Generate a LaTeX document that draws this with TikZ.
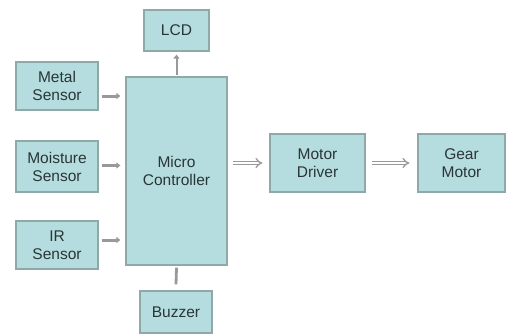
\documentclass[tikz,border=0pt]{standalone}
\usepackage{fontspec}
\setmainfont{Liberation Sans}
\usetikzlibrary{arrows.meta,calc}
\definecolor{boxfill}{HTML}{B5DDE0}
\definecolor{boxline}{HTML}{8FA8AA}
\definecolor{arrgray}{HTML}{999999}
\definecolor{txt}{HTML}{2A3535}
\tikzset{
  blockbox/.style={draw=boxline, line width=1.2pt, fill=boxfill, inner sep=0pt, align=center,
    text=txt, font=\fontsize{15.5}{18}\selectfont},
  sensarrow/.style={draw=arrgray, line width=3pt, -{Triangle[length=4pt,width=6pt]}},
  thinarrow/.style={draw=arrgray, line width=2pt, -{Triangle[length=4pt,width=6pt]}},
  dblarrow/.style={draw=arrgray, double=white, double distance=2pt, line width=1.3pt, -{Implies}},
}
\begin{document}
\begin{tikzpicture}[x=1pt,y=-1pt]
\useasboundingbox (0,0) rectangle (510,334);
\node[blockbox, minimum width=65pt, minimum height=41pt] (lcd) at (176.5,30.5) {LCD};
\node[blockbox, minimum width=82pt, minimum height=48pt] (metal) at (57,86) {Metal\\Sensor};
\node[blockbox, minimum width=82pt, minimum height=51pt] (moist) at (57,166.5) {Moisture\\Sensor};
\node[blockbox, minimum width=82pt, minimum height=48pt] (ir) at (57,245) {IR\\Sensor};
\node[blockbox, minimum width=101pt, minimum height=188pt] (mc) at (176.5,171) {Micro\\Controller};
\node[blockbox, minimum width=72pt, minimum height=42pt] (buz) at (176,312) {Buzzer};
\node[blockbox, minimum width=95pt, minimum height=58pt] (md) at (317.5,163) {Motor\\Driver};
\node[blockbox, minimum width=87pt, minimum height=58pt] (gm) at (461.5,163) {Gear\\Motor};
\draw[sensarrow] ($(metal.east)+(3,10)$) -- ($(metal.east-|mc.west)+(-5,10)$);
\draw[sensarrow] ($(moist.east)+(3,-1)$) -- ($(moist.east-|mc.west)+(-5,-1)$);
\draw[sensarrow] ($(ir.east)+(3,-5)$) -- ($(ir.east-|mc.west)+(-5,-5)$);
\draw[thinarrow] (mc.north-|lcd.south) ++(0,-1) -- ($(lcd.south)+(0,3)$);
\draw[draw=arrgray, line width=2.8pt] ($(mc.south)+(0,2)$) -- ($(buz.north)+(0,-6)$);
\draw[dblarrow] ($(mc.east|-md.west)+(5,0)$) -- ($(md.west)+(-7,0)$);
\draw[dblarrow] ($(md.east)+(6,0)$) -- ($(gm.west)+(-8,0)$);
\end{tikzpicture}
\end{document}
